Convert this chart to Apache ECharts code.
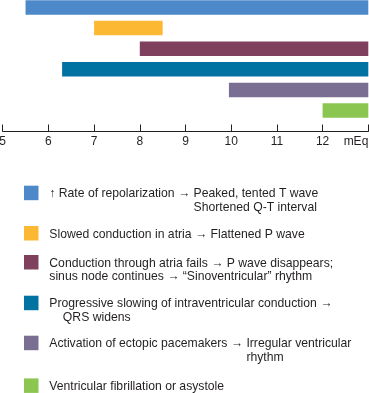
<!DOCTYPE html>
<html><head><meta charset="utf-8">
<script src="https://cdn.jsdelivr.net/npm/echarts@6/dist/echarts.min.js"></script>
<style>html,body{margin:0;padding:0;background:#fff}#c{width:369px;height:393px}</style>
</head><body><div id="c"></div>
<script>
// ---- data ----
const categories = ['Repolarization', 'Atrial slowing', 'Atrial failure', 'Intraventricular slowing', 'Ectopic pacemakers', 'Fibrillation'];
const startValues = [5.5, 7, 8, 6.3, 9.95, 12];
const endValues = [13, 8.5, 13, 13, 13, 13];
const barColors = ['#4d88c8', '#fdb833', '#7f405d', '#0073a2', '#7a6e93', '#8bc651'];
const axisMin = 5, axisMax = 13, axisStep = 1;
const unitLabel = 'mEq';
// legend texts: first line, second line, prefix of first line that the second line is aligned after
const legendFirst = [
  '↑ Rate of repolarization → Peaked, tented T wave',
  'Slowed conduction in atria → Flattened P wave',
  'Conduction through atria fails → P wave disappears;',
  'Progressive slowing of intraventricular conduction →',
  'Activation of ectopic pacemakers → Irregular ventricular',
  'Ventricular fibrillation or asystole'
];
const legendSecond = ['Shortened Q-T interval', '', 'sinus node continues → “Sinoventricular” rhythm', 'QRS widens', 'rhythm', ''];
const legendIndentPrefix = ['↑ Rate of repolarization → ', '', '', '    ', 'Activation of ectopic pacemakers → ', ''];

// ---- chart ----
const FONT = '"Liberation Sans", Arial, Helvetica, sans-serif';
const TEXT = '#231f20';
const FS = 12.2;
const chart = echarts.init(document.getElementById('c'), null, {renderer: 'canvas'});

const ctx = document.createElement('canvas').getContext('2d');
ctx.font = FS + 'px ' + FONT;
const measure = s => ctx.measureText(s).width;

const graphics = [];
const legendX = 24, textX = 49.3, sq = 14.5, lineH = 13.4;
const legendY = [194, 234.3, 263.3, 304, 344, 386.7];
legendFirst.forEach((t, i) => {
  const y = legendY[i];
  graphics.push({type: 'rect', left: legendX, top: y - 8.3, shape: {width: sq, height: sq}, style: {fill: barColors[i]}, silent: true});
  graphics.push({type: 'text', x: textX, y: y, style: {text: t, font: FS + 'px ' + FONT, fill: TEXT, textVerticalAlign: 'middle'}, silent: true});
  if (legendSecond[i]) {
    graphics.push({type: 'text', x: textX + measure(legendIndentPrefix[i]), y: y + lineH, style: {text: legendSecond[i], font: FS + 'px ' + FONT, fill: TEXT, textVerticalAlign: 'middle'}, silent: true});
  }
});

const rowH = 20.61;
const gridTop = 7.45 - rowH / 2;
const gridH = rowH * categories.length;
const axisY = 131.5;

chart.setOption({
  animation: false,
  grid: {left: 2.7, right: 0.7, top: gridTop, height: gridH, containLabel: false, outerBoundsMode: 'none'},
  xAxis: {
    type: 'value', min: axisMin, max: axisMax, interval: axisStep, position: 'bottom',
    offset: axisY - (gridTop + gridH),
    axisLine: {show: true, lineStyle: {color: TEXT, width: 1}},
    axisTick: {show: true, inside: true, length: 7, lineStyle: {color: TEXT, width: 1}},
    splitLine: {show: false},
    axisLabel: {
      color: TEXT, fontSize: 12, fontFamily: FONT, margin: 4,
      alignMaxLabel: 'right',
      formatter: v => (v === axisMax ? unitLabel : String(v))
    }
  },
  yAxis: {type: 'category', data: categories, inverse: true, show: false},
  series: [
    {type: 'bar', stack: 'r', silent: true, barWidth: 14.5, itemStyle: {color: 'rgba(0,0,0,0)'}, data: startValues},
    {type: 'bar', stack: 'r', silent: true, barWidth: 14.5,
     data: endValues.map((e, i) => ({value: +(e - startValues[i]).toFixed(3), itemStyle: {color: barColors[i]}}))}
  ],
  graphic: graphics
});
</script>
</body></html>
